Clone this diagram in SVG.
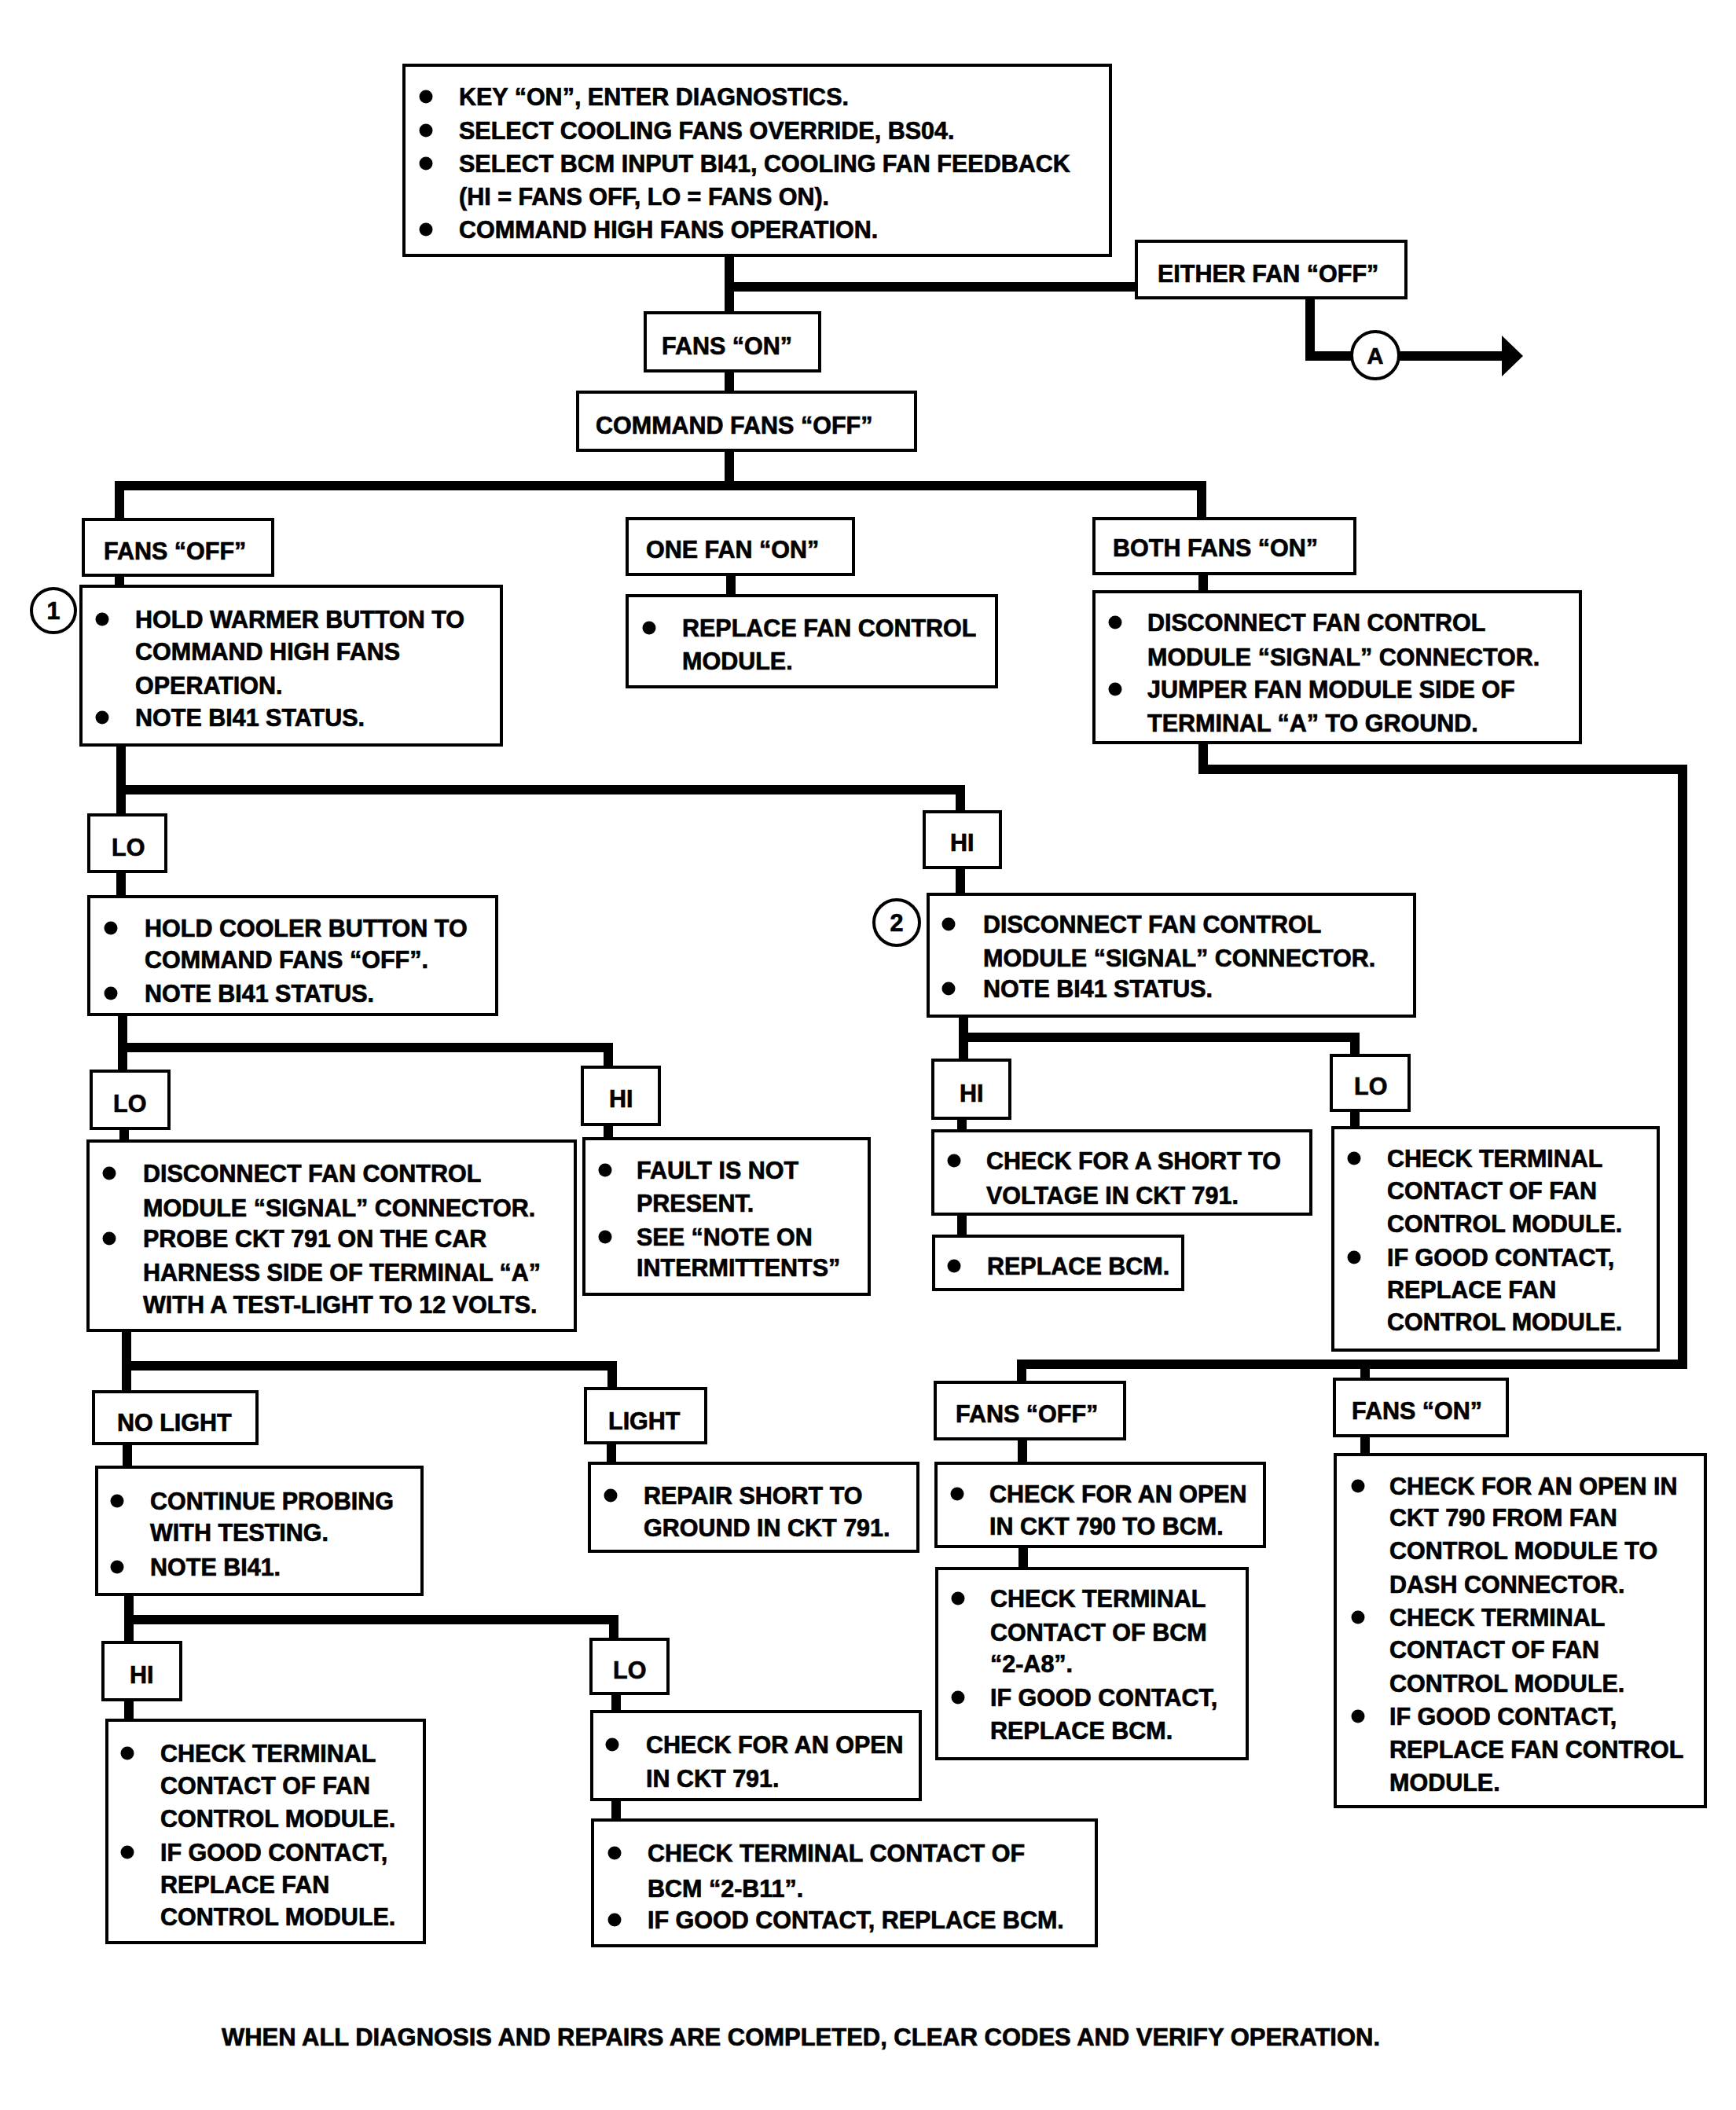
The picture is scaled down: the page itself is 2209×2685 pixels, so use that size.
<svg xmlns="http://www.w3.org/2000/svg" width="2209" height="2685" viewBox="0 0 2209 2685">
<style>
.box{fill:#fff;stroke:#000;stroke-width:4}
.t{font-family:"Liberation Sans",Arial,sans-serif;font-weight:700;font-size:30.5px;fill:#000;stroke:#000;stroke-width:0.7}
.m{text-anchor:middle}
.c{fill:none;stroke:#000;stroke-width:12;stroke-linejoin:miter;stroke-linecap:butt}
.b{fill:#000}
.ring{fill:#fff;stroke:#000;stroke-width:4}
</style>
<rect width="2209" height="2685" fill="#fff"/>
<g id="connectors">
<path class="c" d="M928,320 V402"/>
<path class="c" d="M928,365 H1448"/>
<path class="c" d="M1667,375 V453 H1722"/>
<path class="c" d="M1778,453 H1915"/>
<polygon points="1911,427 1938,453 1911,479" fill="#000"/>
<path class="c" d="M928,470 V503"/>
<path class="c" d="M928,570 V618"/>
<path class="c" d="M152,664 V618 H1529 V664"/>
<path class="c" d="M152,730 V750"/>
<path class="c" d="M930,728 V762"/>
<path class="c" d="M1531,728 V757"/>
<path class="c" d="M1531,942 V979 H2141 V1736 H1300 V1762"/>
<path class="c" d="M1737,1736 V1758"/>
<path class="c" d="M154,945 V1040"/>
<path class="c" d="M154,1005 H1222 V1036"/>
<path class="c" d="M154,1106 V1144"/>
<path class="c" d="M1222,1101 V1141"/>
<path class="c" d="M156,1288 V1366"/>
<path class="c" d="M156,1333 H774 V1361"/>
<path class="c" d="M158,1433 V1455"/>
<path class="c" d="M774,1428 V1452"/>
<path class="c" d="M1226,1290 V1352"/>
<path class="c" d="M1226,1320 H1724 V1346"/>
<path class="c" d="M1224,1420 V1442"/>
<path class="c" d="M1224,1542 V1576"/>
<path class="c" d="M1724,1410 V1438"/>
<path class="c" d="M161,1690 V1774"/>
<path class="c" d="M161,1738 H779 V1770"/>
<path class="c" d="M162,1834 V1870"/>
<path class="c" d="M778,1833 V1865"/>
<path class="c" d="M1301,1828 V1865"/>
<path class="c" d="M1302,1965 V1999"/>
<path class="c" d="M1737,1824 V1854"/>
<path class="c" d="M164,2026 V2093"/>
<path class="c" d="M164,2061 H781 V2089"/>
<path class="c" d="M164,2160 V2192"/>
<path class="c" d="M784,2152 V2181"/>
<path class="c" d="M784,2287 V2319"/>
</g>

<g id="start">
<rect class="box" x="514" y="83" width="899" height="242"/>
<circle class="b" cx="542" cy="123" r="8.5"/>
<circle class="b" cx="542" cy="166" r="8.5"/>
<circle class="b" cx="542" cy="208" r="8.5"/>
<circle class="b" cx="542" cy="292" r="8.5"/>
<text class="t" x="584" y="134">KEY “ON”, ENTER DIAGNOSTICS.</text>
<text class="t" x="584" y="177">SELECT COOLING FANS OVERRIDE, BS04.</text>
<text class="t" x="584" y="219">SELECT BCM INPUT BI41, COOLING FAN FEEDBACK</text>
<text class="t" x="584" y="261">(HI = FANS OFF, LO = FANS ON).</text>
<text class="t" x="584" y="303">COMMAND HIGH FANS OPERATION.</text>
</g>

<g id="either-off">
<rect class="box" x="1446" y="307" width="343" height="72"/>
<text class="t" x="1473" y="359">EITHER FAN “OFF”</text>
</g>

<g id="conn-a">
<circle class="ring" cx="1750" cy="452" r="30"/>
<text class="t m" x="1750" y="463" style="font-size:29px">A</text>
</g>

<g id="fans-on-1">
<rect class="box" x="821" y="398" width="222" height="74"/>
<text class="t" x="842" y="451">FANS “ON”</text>
</g>

<g id="cmd-off">
<rect class="box" x="735" y="499" width="430" height="74"/>
<text class="t" x="758" y="552">COMMAND FANS “OFF”</text>
</g>

<g id="fans-off-1">
<rect class="box" x="106" y="661" width="241" height="71"/>
<text class="t" x="132" y="712">FANS “OFF”</text>
</g>

<g id="one-fan-on">
<rect class="box" x="798" y="660" width="288" height="71"/>
<text class="t" x="822" y="710">ONE FAN “ON”</text>
</g>

<g id="both-fans-on">
<rect class="box" x="1392" y="660" width="332" height="70"/>
<text class="t" x="1416" y="708">BOTH FANS “ON”</text>
</g>

<g id="step1">
<rect class="box" x="103" y="746" width="535" height="202"/>
<circle class="b" cx="130" cy="788" r="8.5"/>
<circle class="b" cx="130" cy="913" r="8.5"/>
<text class="t" x="172" y="799">HOLD WARMER BUTTON TO</text>
<text class="t" x="172" y="840">COMMAND HIGH FANS</text>
<text class="t" x="172" y="883">OPERATION.</text>
<text class="t" x="172" y="924">NOTE BI41 STATUS.</text>
</g>

<g id="mark1">
<circle class="ring" cx="68" cy="777" r="28"/>
<text class="t m" x="68" y="788">1</text>
</g>

<g id="replace-fcm">
<rect class="box" x="798" y="758" width="470" height="116"/>
<circle class="b" cx="826" cy="799" r="8.5"/>
<text class="t" x="868" y="810">REPLACE FAN CONTROL</text>
<text class="t" x="868" y="852">MODULE.</text>
</g>

<g id="jumper">
<rect class="box" x="1392" y="753" width="619" height="192"/>
<circle class="b" cx="1419" cy="792" r="8.5"/>
<circle class="b" cx="1419" cy="877" r="8.5"/>
<text class="t" x="1460" y="803">DISCONNECT FAN CONTROL</text>
<text class="t" x="1460" y="847">MODULE “SIGNAL” CONNECTOR.</text>
<text class="t" x="1460" y="888">JUMPER FAN MODULE SIDE OF</text>
<text class="t" x="1460" y="931">TERMINAL “A” TO GROUND.</text>
</g>

<g id="lo-1">
<rect class="box" x="113" y="1037" width="98" height="72"/>
<text class="t" x="142" y="1089">LO</text>
</g>

<g id="hi-1">
<rect class="box" x="1176" y="1033" width="97" height="71"/>
<text class="t" x="1209" y="1083">HI</text>
</g>

<g id="cooler">
<rect class="box" x="113" y="1141" width="519" height="150"/>
<circle class="b" cx="141" cy="1181" r="8.5"/>
<circle class="b" cx="141" cy="1264" r="8.5"/>
<text class="t" x="184" y="1192">HOLD COOLER BUTTON TO</text>
<text class="t" x="184" y="1232">COMMAND FANS “OFF”.</text>
<text class="t" x="184" y="1275">NOTE BI41 STATUS.</text>
</g>

<g id="step2">
<rect class="box" x="1181" y="1138" width="619" height="155"/>
<circle class="b" cx="1207" cy="1176" r="8.5"/>
<circle class="b" cx="1207" cy="1258" r="8.5"/>
<text class="t" x="1251" y="1187">DISCONNECT FAN CONTROL</text>
<text class="t" x="1251" y="1230">MODULE “SIGNAL” CONNECTOR.</text>
<text class="t" x="1251" y="1269">NOTE BI41 STATUS.</text>
</g>

<g id="mark2">
<circle class="ring" cx="1141" cy="1174" r="29"/>
<text class="t m" x="1141" y="1185">2</text>
</g>

<g id="lo-2">
<rect class="box" x="116" y="1363" width="99" height="73"/>
<text class="t" x="144" y="1415">LO</text>
</g>

<g id="hi-2">
<rect class="box" x="741" y="1358" width="98" height="73"/>
<text class="t" x="775" y="1409">HI</text>
</g>

<g id="hi-3">
<rect class="box" x="1187" y="1349" width="98" height="74"/>
<text class="t" x="1221" y="1402">HI</text>
</g>

<g id="lo-3">
<rect class="box" x="1694" y="1343" width="99" height="70"/>
<text class="t" x="1723" y="1393">LO</text>
</g>

<g id="probe">
<rect class="box" x="112" y="1452" width="620" height="241"/>
<circle class="b" cx="139" cy="1493" r="8.5"/>
<circle class="b" cx="139" cy="1576" r="8.5"/>
<text class="t" x="182" y="1504">DISCONNECT FAN CONTROL</text>
<text class="t" x="182" y="1548">MODULE “SIGNAL” CONNECTOR.</text>
<text class="t" x="182" y="1587">PROBE CKT 791 ON THE CAR</text>
<text class="t" x="182" y="1630">HARNESS SIDE OF TERMINAL “A”</text>
<text class="t" x="182" y="1671">WITH A TEST-LIGHT TO 12 VOLTS.</text>
</g>

<g id="fault">
<rect class="box" x="743" y="1449" width="363" height="198"/>
<circle class="b" cx="770" cy="1489" r="8.5"/>
<circle class="b" cx="770" cy="1574" r="8.5"/>
<text class="t" x="810" y="1500">FAULT IS NOT</text>
<text class="t" x="810" y="1542">PRESENT.</text>
<text class="t" x="810" y="1585">SEE “NOTE ON</text>
<text class="t" x="810" y="1624">INTERMITTENTS”</text>
</g>

<g id="short-voltage">
<rect class="box" x="1187" y="1439" width="481" height="106"/>
<circle class="b" cx="1214" cy="1477" r="8.5"/>
<text class="t" x="1255" y="1488">CHECK FOR A SHORT TO</text>
<text class="t" x="1255" y="1532">VOLTAGE IN CKT 791.</text>
</g>

<g id="replace-bcm">
<rect class="box" x="1188" y="1573" width="317" height="68"/>
<circle class="b" cx="1214" cy="1611" r="8.5"/>
<text class="t" x="1256" y="1622">REPLACE BCM.</text>
</g>

<g id="terminal-fcm-1">
<rect class="box" x="1696" y="1435" width="414" height="283"/>
<circle class="b" cx="1723" cy="1474" r="8.5"/>
<circle class="b" cx="1723" cy="1600" r="8.5"/>
<text class="t" x="1765" y="1485">CHECK TERMINAL</text>
<text class="t" x="1765" y="1526">CONTACT OF FAN</text>
<text class="t" x="1765" y="1568">CONTROL MODULE.</text>
<text class="t" x="1765" y="1611">IF GOOD CONTACT,</text>
<text class="t" x="1765" y="1652">REPLACE FAN</text>
<text class="t" x="1765" y="1693">CONTROL MODULE.</text>
</g>

<g id="no-light">
<rect class="box" x="119" y="1771" width="208" height="66"/>
<text class="t" x="149" y="1821">NO LIGHT</text>
</g>

<g id="light">
<rect class="box" x="745" y="1767" width="153" height="69"/>
<text class="t" x="774" y="1819">LIGHT</text>
</g>

<g id="fans-off-2">
<rect class="box" x="1190" y="1759" width="241" height="72"/>
<text class="t" x="1216" y="1810">FANS “OFF”</text>
</g>

<g id="fans-on-2">
<rect class="box" x="1698" y="1755" width="220" height="72"/>
<text class="t" x="1720" y="1806">FANS “ON”</text>
</g>

<g id="continue">
<rect class="box" x="123" y="1867" width="414" height="162"/>
<circle class="b" cx="149" cy="1910" r="8.5"/>
<circle class="b" cx="149" cy="1994" r="8.5"/>
<text class="t" x="191" y="1921">CONTINUE PROBING</text>
<text class="t" x="191" y="1961">WITH TESTING.</text>
<text class="t" x="191" y="2005">NOTE BI41.</text>
</g>

<g id="repair-short">
<rect class="box" x="750" y="1862" width="418" height="112"/>
<circle class="b" cx="777" cy="1903" r="8.5"/>
<text class="t" x="819" y="1914">REPAIR SHORT TO</text>
<text class="t" x="819" y="1955">GROUND IN CKT 791.</text>
</g>

<g id="open-790-bcm">
<rect class="box" x="1191" y="1862" width="418" height="106"/>
<circle class="b" cx="1218" cy="1901" r="8.5"/>
<text class="t" x="1259" y="1912">CHECK FOR AN OPEN</text>
<text class="t" x="1259" y="1953">IN CKT 790 TO BCM.</text>
</g>

<g id="open-790-dash">
<rect class="box" x="1699" y="1851" width="471" height="448"/>
<circle class="b" cx="1728" cy="1891" r="8.5"/>
<circle class="b" cx="1728" cy="2058" r="8.5"/>
<circle class="b" cx="1728" cy="2184" r="8.5"/>
<text class="t" x="1768" y="1902">CHECK FOR AN OPEN IN</text>
<text class="t" x="1768" y="1942">CKT 790 FROM FAN</text>
<text class="t" x="1768" y="1984">CONTROL MODULE TO</text>
<text class="t" x="1768" y="2027">DASH CONNECTOR.</text>
<text class="t" x="1768" y="2069">CHECK TERMINAL</text>
<text class="t" x="1768" y="2110">CONTACT OF FAN</text>
<text class="t" x="1768" y="2153">CONTROL MODULE.</text>
<text class="t" x="1768" y="2195">IF GOOD CONTACT,</text>
<text class="t" x="1768" y="2237">REPLACE FAN CONTROL</text>
<text class="t" x="1768" y="2279">MODULE.</text>
</g>

<g id="terminal-a8">
<rect class="box" x="1192" y="1996" width="395" height="242"/>
<circle class="b" cx="1219" cy="2034" r="8.5"/>
<circle class="b" cx="1219" cy="2160" r="8.5"/>
<text class="t" x="1260" y="2045">CHECK TERMINAL</text>
<text class="t" x="1260" y="2088">CONTACT OF BCM</text>
<text class="t" x="1260" y="2128">“2-A8”.</text>
<text class="t" x="1260" y="2171">IF GOOD CONTACT,</text>
<text class="t" x="1260" y="2213">REPLACE BCM.</text>
</g>

<g id="hi-4">
<rect class="box" x="131" y="2090" width="99" height="73"/>
<text class="t" x="165" y="2142">HI</text>
</g>

<g id="lo-4">
<rect class="box" x="752" y="2086" width="98" height="69"/>
<text class="t" x="780" y="2136">LO</text>
</g>

<g id="terminal-fcm-2">
<rect class="box" x="136" y="2189" width="404" height="283"/>
<circle class="b" cx="162" cy="2231" r="8.5"/>
<circle class="b" cx="162" cy="2357" r="8.5"/>
<text class="t" x="204" y="2242">CHECK TERMINAL</text>
<text class="t" x="204" y="2283">CONTACT OF FAN</text>
<text class="t" x="204" y="2325">CONTROL MODULE.</text>
<text class="t" x="204" y="2368">IF GOOD CONTACT,</text>
<text class="t" x="204" y="2409">REPLACE FAN</text>
<text class="t" x="204" y="2450">CONTROL MODULE.</text>
</g>

<g id="open-791">
<rect class="box" x="753" y="2178" width="418" height="112"/>
<circle class="b" cx="779" cy="2220" r="8.5"/>
<text class="t" x="822" y="2231">CHECK FOR AN OPEN</text>
<text class="t" x="822" y="2274">IN CKT 791.</text>
</g>

<g id="terminal-b11">
<rect class="box" x="754" y="2316" width="641" height="160"/>
<circle class="b" cx="782" cy="2358" r="8.5"/>
<circle class="b" cx="782" cy="2443" r="8.5"/>
<text class="t" x="824" y="2369">CHECK TERMINAL CONTACT OF</text>
<text class="t" x="824" y="2414">BCM “2-B11”.</text>
<text class="t" x="824" y="2454">IF GOOD CONTACT, REPLACE BCM.</text>
</g>

<g id="footer">
<text class="t" x="282" y="2603" textLength="1474" lengthAdjust="spacingAndGlyphs">WHEN ALL DIAGNOSIS AND REPAIRS ARE COMPLETED, CLEAR CODES AND VERIFY OPERATION.</text>
</g>
</svg>
